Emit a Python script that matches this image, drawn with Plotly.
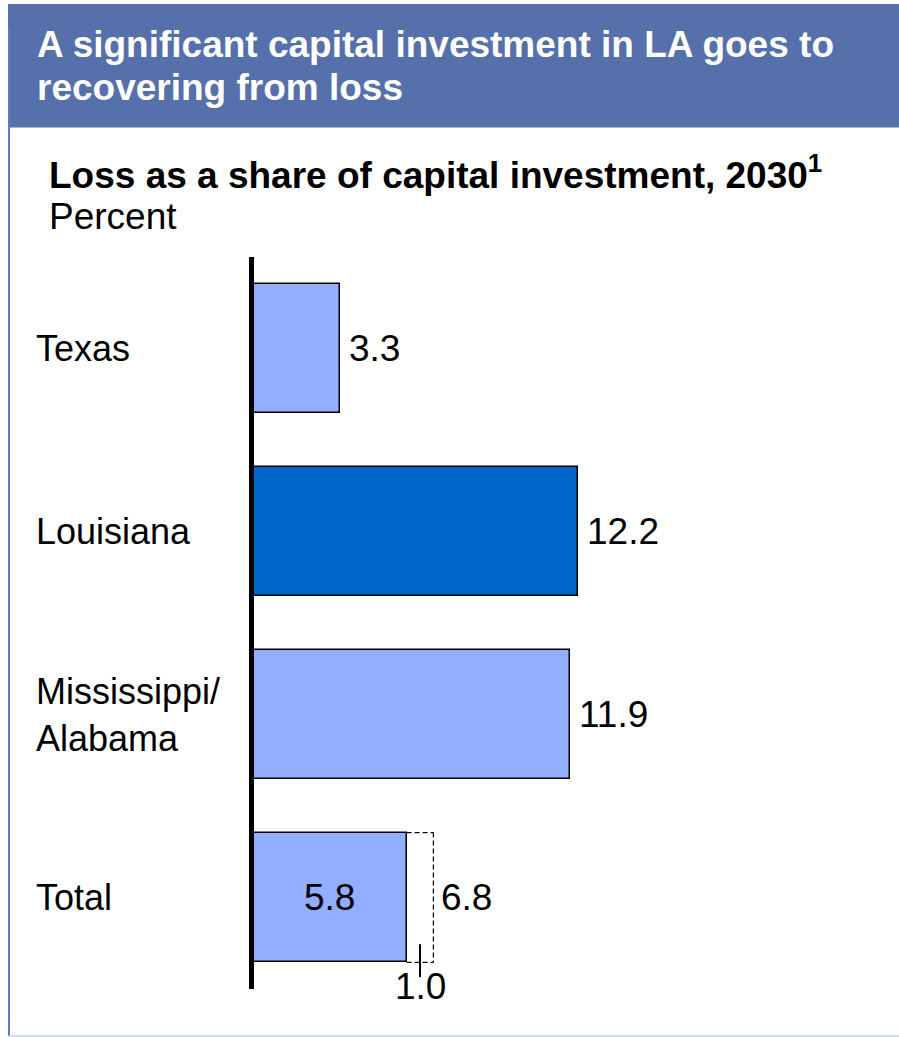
import plotly.graph_objects as go

# Data
regions = ["Texas", "Louisiana", "Mississippi/<br>Alabama", "Total"]
loss_share = [3.3, 12.2, 11.9, 5.8]
total_with_extra = 6.8          # total including the additional component
extra_component = 1.0           # difference shown below the total bar
bar_colors = ["#92AEFF", "#0066CC", "#92AEFF", "#92AEFF"]

title_lines = ["A significant capital investment in LA goes to", "recovering from loss"]
subtitle = "Loss as a share of capital investment, 2030<sup>1</sup>"
unit_label = "Percent"

# Page geometry (pixels)
W, H = 899, 1037
L, R, T, B = 240, 0, 257, 48
PW, PH = W - L - R, H - T - B
ZERO_PX = 251.5
PX_PER_UNIT = 26.75

FONT = "Liberation Sans, Arial, sans-serif"
FS = 37


def px_x(px):
    return (px - L) / PW


def px_y(py):
    return (H - B - py) / PH


ypos = list(range(len(regions)))
bar_w = 0.71

fig = go.Figure()
fig.add_trace(go.Bar(
    x=loss_share,
    y=ypos,
    orientation="h",
    width=bar_w,
    marker=dict(color=bar_colors, line=dict(color="black", width=1.5)),
    hoverinfo="skip",
    showlegend=False,
    cliponaxis=False,
))

shapes = []
annotations = []

# Header banner
shapes.append(dict(type="rect", xref="paper", yref="paper",
                   x0=px_x(8), x1=px_x(W + 2), y0=px_y(127.5), y1=px_y(4),
                   fillcolor="#5570AA", line=dict(width=0), layer="below"))
# Panel borders
shapes.append(dict(type="line", xref="paper", yref="paper",
                   x0=px_x(9), x1=px_x(9), y0=px_y(1036), y1=px_y(27),
                   line=dict(color="#5F7AB4", width=2)))
shapes.append(dict(type="line", xref="paper", yref="paper",
                   x0=px_x(9), x1=px_x(W + 2), y0=px_y(1036), y1=px_y(1036),
                   line=dict(color="#D3DAEE", width=2)))

# Vertical baseline at zero
shapes.append(dict(type="line", xref="x", yref="y",
                   x0=0, x1=0, y0=-0.5, y1=len(regions) - 0.5,
                   line=dict(color="black", width=5), layer="above"))

# Dashed extension of the total bar up to the full value
ti = len(regions) - 1
top, bot = ti - bar_w / 2, ti + bar_w / 2
base_total = loss_share[ti]
dash = dict(color="black", width=1.2, dash="5px,3px")
shapes.append(dict(type="line", xref="x", yref="y", x0=base_total, x1=total_with_extra,
                   y0=top, y1=top, line=dash))
shapes.append(dict(type="line", xref="x", yref="y", x0=total_with_extra, x1=total_with_extra,
                   y0=top, y1=bot, line=dash))
shapes.append(dict(type="line", xref="x", yref="y", x0=base_total, x1=total_with_extra,
                   y0=bot, y1=bot, line=dash))
mid_extra = base_total + extra_component / 2
shapes.append(dict(type="line", xref="x", yref="y", x0=mid_extra, x1=mid_extra,
                   y0=bot - 0.10, y1=bot + 0.08, line=dict(color="black", width=2)))


def text_at(x, y, text, color="black", bold=False, xanchor="left"):
    if bold:
        text = "<b>" + text + "</b>"
    annotations.append(dict(xref="paper", yref="paper", x=px_x(x), y=px_y(y),
                            xanchor=xanchor, yanchor="middle", align="left", showarrow=False,
                            text=text, font=dict(family=FONT, size=FS, color=color)))


# Title and subtitle text
text_at(35, 44, title_lines[0], color="white", bold=True)
text_at(35, 87, title_lines[1], color="white", bold=True)
text_at(47, 172, subtitle, bold=True)
text_at(47, 217, unit_label)

# Category labels
for i, name in enumerate(regions):
    annotations.append(dict(xref="paper", yref="y", x=px_x(34), y=i,
                            xanchor="left", yanchor="middle", align="left", showarrow=False,
                            text=name, font=dict(family=FONT, size=36, color="black")))

# Value labels
for i, v in enumerate(loss_share):
    if i == ti:
        annotations.append(dict(xref="x", yref="y", x=v / 2, y=i,
                                xanchor="center", yanchor="middle", showarrow=False,
                                text=f"{v:.1f}", font=dict(family=FONT, size=FS, color="black")))
    else:
        annotations.append(dict(xref="x", yref="y", x=v, y=i, xshift=7,
                                xanchor="left", yanchor="middle", showarrow=False,
                                text=f"{v:.1f}", font=dict(family=FONT, size=FS, color="black")))

annotations.append(dict(xref="x", yref="y", x=total_with_extra, y=ti, xshift=6,
                        xanchor="left", yanchor="middle", showarrow=False,
                        text=f"{total_with_extra:.1f}", font=dict(family=FONT, size=FS, color="black")))
annotations.append(dict(xref="x", yref="y", x=mid_extra, y=bot + 0.13,
                        xanchor="center", yanchor="middle", showarrow=False,
                        text=f"{extra_component:.1f}", font=dict(family=FONT, size=FS, color="black")))

x_lo = -(ZERO_PX - L) / PX_PER_UNIT
fig.update_layout(
    width=W, height=H,
    margin=dict(l=L, r=R, t=T, b=B, pad=0),
    paper_bgcolor="white", plot_bgcolor="white",
    xaxis=dict(range=[x_lo, x_lo + PW / PX_PER_UNIT], visible=False, fixedrange=True),
    yaxis=dict(range=[len(regions) - 0.5, -0.5], visible=False, fixedrange=True),
    shapes=shapes,
    annotations=annotations,
    font=dict(family=FONT),
    bargap=0,
)

fig.write_html("out.html", config={"displayModeBar": False})
